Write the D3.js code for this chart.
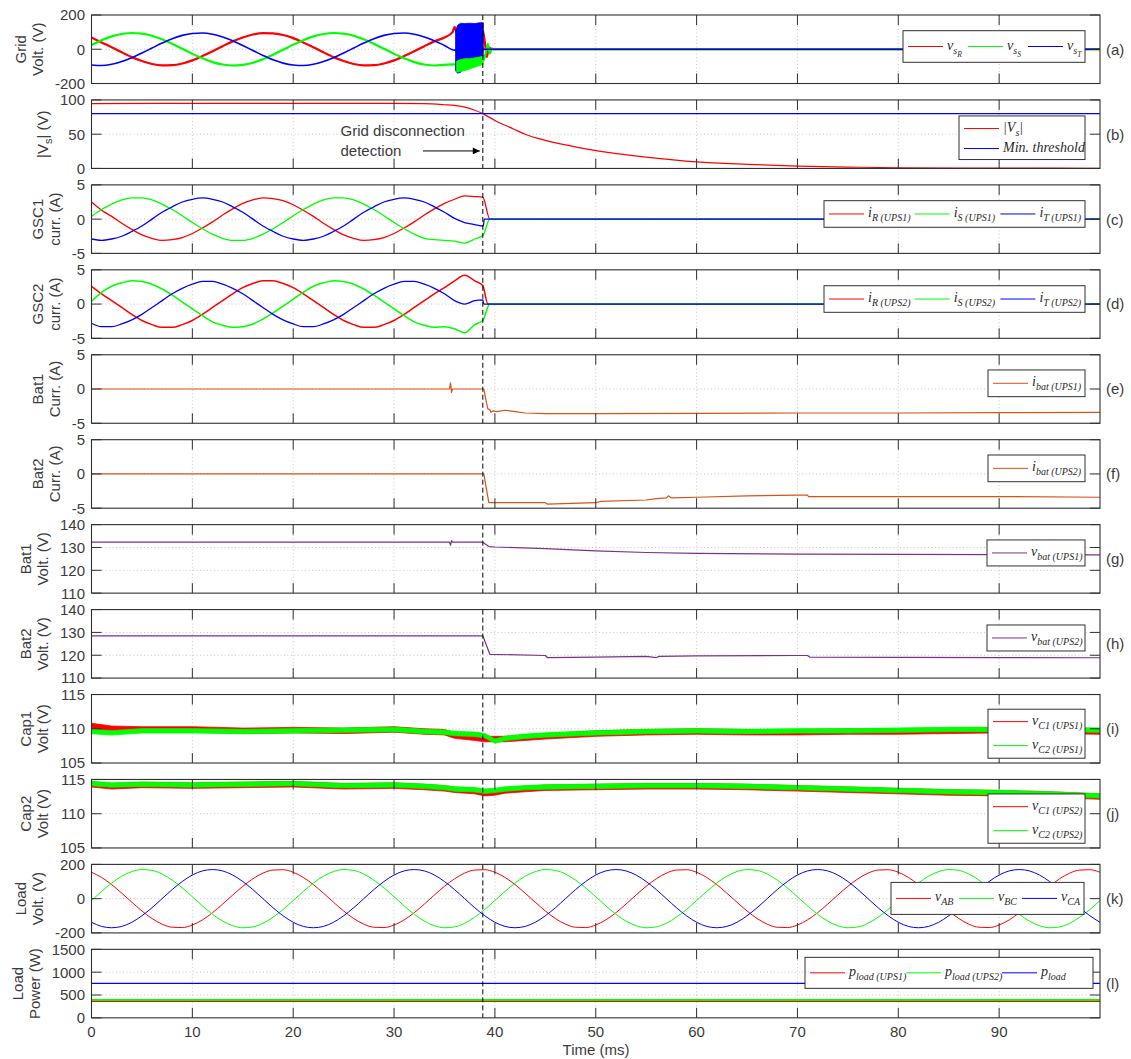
<!DOCTYPE html>
<html>
<head>
<meta charset="utf-8">
<script src="https://cdnjs.cloudflare.com/ajax/libs/d3/7.8.5/d3.min.js"></script>
<style>
body { margin: 0; background: #fff; }
svg { font-family: "Liberation Sans", Arial, sans-serif; }
.tick-label { font-size: 15px; fill: #3c3c3c; }
.ylab { font-size: 15px; fill: #3c3c3c; }
.grid { stroke: #c8c8c8; stroke-dasharray: 1,2.5; }
.frame { fill: none; stroke: #303030; stroke-width: 1.1; }
.tickmark { stroke: #303030; stroke-width: 1; }
.leg text { font-family: "Liberation Serif", "Times New Roman", serif; font-style: italic; fill: #2a2a2a; }
</style>
</head>
<body>
<div id="chart"></div>
<script>
"use strict";

//time axis (ms)
var xTicks = [0, 10, 20, 30, 40, 50, 60, 70, 80, 90];
var tDetect = 38.8;

//(a) grid voltages, one sample per ms before the fault
var tGrid = [0,1,2,3,4,5,6,7,8,9,10,11,12,13,14,15,16,17,18,19,20,21,22,23,24,25,26,27,28,29,30,31,32,33,34,35];
var gridR = [68,40,12,-18,-46,-69,-86,-94,-93,-83,-65,-40,-12,18,46,69,86,94,93,83,65,40,12,-18,-46,-69,-86,-94,-93,-83,-65,-40,-12,18,46,69];
var gridS = [24,53,75,89,95,91,79,58,32,3,-27,-53,-75,-89,-95,-91,-79,-58,-32,-3,27,53,75,89,95,91,79,58,32,3,-27,-53,-75,-89,-95,-91];
var gridT = [-92,-95,-88,-72,-50,-22,7,36,62,81,92,95,88,72,50,22,-7,-36,-62,-81,-92,-95,-88,-72,-50,-22,7,36,62,81,92,95,88,72,50,22];
var gridRTail = [[35.8,100],[36.0,131],[36.2,98],[36.6,112],[37.2,118],[37.8,125],[38.4,135],[38.8,110],[39.0,43],[39.2,-45],[39.4,10],[39.7,0],[100,0]];
var gridSTail = [[36.0,-88],[36.5,-100],[37.5,-90],[38.5,-75],[38.9,-60],[39.1,-20],[39.3,30],[39.5,-25],[39.7,5],[39.9,0],[100,0]];
var gridTTail = [[36.0,-5],[38.9,0],[100,0]];
//switching burst just before the disconnection (envelopes)
var burstT = [36.1, 36.3, 36.6, 37.0, 37.5, 38.0, 38.5, 38.85];
var burstTHi = [110, 140, 152, 150, 152, 150, 155, 155];
var burstTLo = [-125, -140, -135, -100, -80, -65, -58, -55];
var burstSt = [36.2, 36.6, 37.0, 37.5, 38.0, 38.5, 38.85];
var burstSHi = [-70, -60, -55, -55, -50, -45, -40];
var burstSLo = [-135, -130, -125, -115, -105, -95, -88];

//(b) grid voltage magnitude and threshold
var tMag = [0,10,20,30,33,35,36,37,38,38.8,40,41.8,43,45,47.5,50,55,60,65,70,75,80,90,100];
var vsMag = [94.5,95,95,95,94.5,93,92,89.5,85,80,70,58,50,41,33,26,16.5,9.5,6,3.5,2,1,0.5,0.3];
var minThreshold = 80;

//(c),(d) converter currents, one sample per ms
var tCur = [0,1,2,3,4,5,6,7,8,9,10,11,12,13,14,15,16,17,18,19,20,21,22,23,24,25,26,27,28,29,30,31,32,33,34,35,36,37,38];
var iR1 = [2.5,1.3,0.4,-0.6,-1.5,-2.3,-2.8,-3.1,-3.0,-2.7,-2.1,-1.3,-0.4,0.6,1.5,2.3,2.8,3.1,3.0,2.7,2.1,1.3,0.4,-0.6,-1.5,-2.3,-2.8,-3.1,-3.0,-2.7,-2.1,-1.3,-0.4,0.6,1.5,2.3,2.9,3.4,3.3];
var iS1 = [0.4,1.4,2.2,2.8,3.1,3.1,2.8,2.2,1.4,0.5,-0.5,-1.4,-2.2,-2.8,-3.1,-3.1,-2.8,-2.2,-1.4,-0.5,0.5,1.4,2.2,2.8,3.1,3.1,2.8,2.2,1.4,0.5,-0.5,-1.4,-2.2,-2.8,-3.0,-3.1,-3.2,-3.5,-2.9];
var iT1 = [-2.9,-3.1,-2.9,-2.5,-1.8,-1.0,0,1.0,1.8,2.5,2.9,3.1,2.9,2.5,1.8,1.0,0,-1.0,-1.8,-2.5,-2.9,-3.1,-2.9,-2.5,-1.8,-1.0,0,1.0,1.8,2.5,2.9,3.1,2.9,2.5,1.8,1.0,0.1,-0.5,-0.8];
var iR1Tail = [[38.8,3.2],[39.5,0],[100,0]];
var iS1Tail = [[38.8,-2.4],[39.5,0],[100,0]];
var iT1Tail = [[38.85,-1.0],[38.95,0],[100,0]];
var iR2 = [2.6,1.5,0.5,-0.5,-1.5,-2.4,-3.0,-3.4,-3.4,-3.0,-2.4,-1.5,-0.5,0.5,1.5,2.4,3.0,3.4,3.4,3.0,2.4,1.5,0.5,-0.5,-1.5,-2.4,-3.0,-3.4,-3.4,-3.0,-2.4,-1.5,-0.5,0.5,1.5,2.4,3.4,4.2,3.4];
var iS2 = [0.4,1.7,2.6,3.1,3.4,3.3,2.9,2.2,1.3,0.3,-0.7,-1.7,-2.6,-3.1,-3.4,-3.3,-2.9,-2.2,-1.3,-0.3,0.7,1.7,2.6,3.1,3.4,3.3,2.9,2.2,1.3,0.3,-0.7,-1.7,-2.6,-3.1,-3.4,-3.3,-3.6,-4.2,-3.0];
var iT2 = [-2.8,-3.3,-3.3,-2.9,-2.3,-1.5,-0.5,0.5,1.5,2.3,2.9,3.3,3.3,2.9,2.3,1.5,0.5,-0.5,-1.5,-2.3,-2.9,-3.3,-3.3,-2.9,-2.3,-1.5,-0.5,0.5,1.5,2.3,2.9,3.3,3.3,2.9,2.3,1.5,0.5,0.0,0.5];
var iR2Tail = [[38.8,2.7],[39.3,0],[100,0]];
var iS2Tail = [[38.8,-2.4],[39.5,0],[100,0]];
var iT2Tail = [[38.8,0.6],[38.9,0],[100,0]];

//(e),(f) battery currents
var iBat1 = [[0,0],[35.5,0],[35.6,0.9],[35.7,-0.5],[35.8,0],[38.9,0],[39.1,-1.5],[39.3,-2.9],[39.5,-3.0],[39.6,-3.4],[39.8,-3.2],[40.2,-3.3],[41,-3.1],[42,-3.3],[43,-3.5],[45,-3.6],[50,-3.6],[60,-3.55],[70,-3.5],[80,-3.5],[90,-3.45],[100,-3.4]];
var iBat2 = [[0,0],[38.9,0],[39.4,-4.2],[45,-4.2],[45.2,-4.4],[50,-4.2],[50.5,-4.0],[55,-3.8],[56,-3.6],[57,-3.5],[57.2,-3.2],[57.5,-3.5],[60,-3.4],[65,-3.2],[70,-3.1],[71,-3.1],[71.1,-3.3],[80,-3.3],[90,-3.3],[100,-3.4]];

//(g),(h) battery voltages
var vBat1 = [[0,132.3],[35.5,132.3],[35.6,131],[35.7,133],[35.8,132.3],[38.8,132.3],[39.4,130.4],[40,130.2],[45,129.5],[50,128.5],[55,127.8],[60,127.4],[70,127.1],[80,127],[90,126.9],[100,126.8]];
var vBat2 = [[0,128.5],[38.8,128.5],[39.5,120.4],[45,119.9],[45.2,119],[50,119.2],[55,119.5],[56,119.0],[56.3,119.5],[60,119.7],[70,119.9],[71,119.9],[71.2,119.2],[80,119.1],[90,119.0],[100,118.9]];

//(i),(j) dc-link capacitor voltages (mean of the ripple band) and ripple half-width
var tCap = [0,2,5,10,15,20,25,30,33,35,36,38,39,40,41,43,45,50,55,60,65,70,75,80,85,90,95,100];
var vC1u1 = [110.4,110.0,109.9,109.9,109.7,109.8,109.7,109.9,109.6,109.5,109.0,108.7,108.5,108.5,108.5,108.7,108.9,109.3,109.5,109.6,109.5,109.5,109.6,109.6,109.7,109.8,109.7,109.6];
var vC2u1 = [109.6,109.4,109.7,109.7,109.6,109.7,109.8,109.9,109.6,109.5,109.3,109.2,109.0,108.2,108.6,108.9,109.1,109.4,109.6,109.7,109.6,109.7,109.7,109.8,109.9,109.9,109.9,109.8];
var vC1u2 = [114.3,114.0,114.2,114.1,114.2,114.3,114.0,114.1,113.9,113.7,113.5,113.3,113.0,113.1,113.4,113.6,113.8,113.9,114.0,114.0,113.9,113.7,113.5,113.3,113.1,113.0,112.8,112.5];
var vC2u2 = [114.4,114.2,114.3,114.2,114.3,114.4,114.1,114.2,114.0,113.8,113.6,113.5,113.3,113.4,113.6,113.8,113.9,114.0,114.1,114.1,114.0,113.8,113.6,113.4,113.2,113.1,112.9,112.6];
var capRipple = 0.4;

//(k) load line voltages, one sample per ms
var tLoad = [0,1,2,3,4,5,6,7,8,9,10,11,12,13,14,15,16,17,18,19,20,21,22,23,24,25,26,27,28,29,30,31,32,33,34,35,36,37,38,39,40,41,42,43,44,45,46,47,48,49,50,51,52,53,54,55,56,57,58,59,60,61,62,63,64,65,66,67,68,69,70,71,72,73,74,75,76,77,78,79,80,81,82,83,84,85,86,87,88,89,90,91,92,93,94,95,96,97,98,99,100];
var vAB = [154,124,82,32,-21,-72,-116,-149,-167,-169,-154,-124,-82,-32,21,72,116,149,167,169,
  154,124,82,32,-21,-72,-116,-149,-167,-169,-154,-124,-82,-32,21,72,116,149,167,169,
  154,124,82,32,-21,-72,-116,-149,-167,-169,-154,-124,-82,-32,21,72,116,149,167,169,
  154,124,82,32,-21,-72,-116,-149,-167,-169,-154,-124,-82,-32,21,72,116,149,167,169,
  154,124,82,32,-21,-72,-116,-149,-167,-169,-154,-124,-82,-32,21,72,116,149,167,169,154];
var vBC = [-11,42,91,131,158,170,165,144,108,63,11,-42,-91,-131,-158,-170,-165,-144,-108,-63,
  -11,42,91,131,158,170,165,144,108,63,11,-42,-91,-131,-158,-170,-165,-144,-108,-63,
  -11,42,91,131,158,170,165,144,108,63,11,-42,-91,-131,-158,-170,-165,-144,-108,-63,
  -11,42,91,131,158,170,165,144,108,63,11,-42,-91,-131,-158,-170,-165,-144,-108,-63,
  -11,42,91,131,158,170,165,144,108,63,11,-42,-91,-131,-158,-170,-165,-144,-108,-63,-11];
var vCA = [-138,-162,-170,-162,-138,-100,-53,0,53,100,138,162,170,162,138,100,53,0,-53,-100,
  -138,-162,-170,-162,-138,-100,-53,0,53,100,138,162,170,162,138,100,53,0,-53,-100,
  -138,-162,-170,-162,-138,-100,-53,0,53,100,138,162,170,162,138,100,53,0,-53,-100,
  -138,-162,-170,-162,-138,-100,-53,0,53,100,138,162,170,162,138,100,53,0,-53,-100,
  -138,-162,-170,-162,-138,-100,-53,0,53,100,138,162,170,162,138,100,53,0,-53,-100,-138];

//(l) load powers (W)
var pLoad1 = [[0,365],[100,365]];
var pLoad2 = [[0,390],[100,390]];
var pLoad = [[0,755],[100,755]];

var red = "#ff0000", green = "#00ff00", blue = "#0000ff",
  orange = "#d95319", purple = "#7e2f8e";

function zip(ts, vs) {
  return ts.map(function(t, i) {
    return [t, vs[i]];
  });
}

function band(ts, hi, lo) {
  return ts.map(function(t, i) {
    return [t, hi[i], lo[i]];
  });
}

function ripple(ts, vs, hw) {
  return ts.map(function(t, i) {
    return [t, vs[i] + hw, vs[i] - hw];
  });
}

//legend labels: [text, level] with level 0 base, 1 sub, 2 sub-sub
var panels = [
  {
    letter: "(a)", ylab: [[["Grid", 0]], [["Volt. (V)", 0]]],
    domain: [-200, 200], ticks: [-200, 0, 200],
    series: [
      { data: zip(tGrid, gridR).concat(gridRTail), color: red, width: 2.2, smooth: true },
      { data: zip(tGrid, gridS).concat(gridSTail), color: green, width: 2.2, smooth: true },
      { data: zip(tGrid, gridT).concat(gridTTail), color: blue, width: 1.6, smooth: true }
    ],
    bands: [
      { data: band(burstT, burstTHi, burstTLo), color: blue },
      { data: band(burstSt, burstSHi, burstSLo), color: green }
    ],
    legend: { x0: 903, x1: 1085, dy: 15.7, h: 31.6, step: 60, items: [
      { color: red, label: [["v", 0], ["s", 1], ["R", 2]] },
      { color: green, label: [["v", 0], ["s", 1], ["S", 2]] },
      { color: blue, label: [["v", 0], ["s", 1], ["T", 2]] }
    ] }
  },
  {
    letter: "(b)", ylab: [[["|V", 0], ["s", 1], ["| (V)", 0]]],
    domain: [0, 100], ticks: [0, 50, 100],
    series: [
      { data: zip(tMag, vsMag), color: red, width: 1.2, smooth: true },
      { data: [[0, minThreshold], [100, minThreshold]], color: blue, width: 1.2 }
    ],
    legend: { x0: 959, x1: 1085, dy: 16, h: 43.6, rowY: [12.6, 32.6], items: [
      { color: red, label: [["|V", 0], ["s", 1], ["|", 0]] },
      { color: blue, label: [["Min. threshold", 0]] }
    ] }
  },
  {
    letter: "(c)", ylab: [[["GSC1", 0]], [["curr. (A)", 0]]],
    domain: [-5, 5], ticks: [-5, 0, 5],
    series: [
      { data: zip(tCur, iR1).concat(iR1Tail), color: red, width: 1.3, smooth: true },
      { data: zip(tCur, iS1).concat(iS1Tail), color: green, width: 1.3, smooth: true },
      { data: zip(tCur, iT1).concat(iT1Tail), color: blue, width: 1.3, smooth: true }
    ],
    legend: { x0: 824, x1: 1085, dy: 15.8, h: 26.6, step: 85.7, items: [
      { color: red, label: [["i", 0], ["R (UPS1)", 1]] },
      { color: green, label: [["i", 0], ["S (UPS1)", 1]] },
      { color: blue, label: [["i", 0], ["T (UPS1)", 1]] }
    ] }
  },
  {
    letter: "(d)", ylab: [[["GSC2", 0]], [["curr. (A)", 0]]],
    domain: [-5, 5], ticks: [-5, 0, 5],
    series: [
      { data: zip(tCur, iR2).concat(iR2Tail), color: red, width: 1.5, smooth: true },
      { data: zip(tCur, iS2).concat(iS2Tail), color: green, width: 1.5, smooth: true },
      { data: zip(tCur, iT2).concat(iT2Tail), color: blue, width: 1.3, smooth: true }
    ],
    legend: { x0: 824, x1: 1085, dy: 15.9, h: 26.6, step: 85.7, items: [
      { color: red, label: [["i", 0], ["R (UPS2)", 1]] },
      { color: green, label: [["i", 0], ["S (UPS2)", 1]] },
      { color: blue, label: [["i", 0], ["T (UPS2)", 1]] }
    ] }
  },
  {
    letter: "(e)", ylab: [[["Bat1", 0]], [["Curr. (A)", 0]]],
    domain: [-5, 5], ticks: [-5, 0, 5],
    series: [{ data: iBat1, color: orange, width: 1.2 }],
    legend: { x0: 988, x1: 1085, dy: 15.2, h: 26.7, step: 0, items: [
      { color: orange, label: [["i", 0], ["bat (UPS1)", 1]] }
    ] }
  },
  {
    letter: "(f)", ylab: [[["Bat2", 0]], [["Curr. (A)", 0]]],
    domain: [-5, 5], ticks: [-5, 0, 5],
    series: [{ data: iBat2, color: orange, width: 1.2 }],
    legend: { x0: 988, x1: 1085, dy: 15.3, h: 26.7, step: 0, items: [
      { color: orange, label: [["i", 0], ["bat (UPS2)", 1]] }
    ] }
  },
  {
    letter: "(g)", ylab: [[["Bat1", 0]], [["Volt. (V)", 0]]],
    domain: [110, 140], ticks: [110, 120, 130, 140],
    series: [{ data: vBat1, color: purple, width: 1.2 }],
    legend: { x0: 987, x1: 1085, dy: 15.3, h: 26, step: 0, items: [
      { color: purple, label: [["v", 0], ["bat (UPS1)", 1]] }
    ] }
  },
  {
    letter: "(h)", ylab: [[["Bat2", 0]], [["Volt. (V)", 0]]],
    domain: [110, 140], ticks: [110, 120, 130, 140],
    series: [{ data: vBat2, color: purple, width: 1.2 }],
    legend: { x0: 987, x1: 1085, dy: 15.4, h: 26, step: 0, items: [
      { color: purple, label: [["v", 0], ["bat (UPS2)", 1]] }
    ] }
  },
  {
    letter: "(i)", ylab: [[["Cap1", 0]], [["Volt (V)", 0]]],
    domain: [105, 115], ticks: [105, 110, 115],
    bands: [
      { data: ripple(tCap, vC1u1, capRipple), color: red },
      { data: ripple(tCap, vC2u1, capRipple * 0.8), color: green }
    ],
    legend: { x0: 988, x1: 1085, dy: 14.7, h: 49, rowY: [12.4, 36.4], items: [
      { color: red, label: [["v", 0], ["C1 (UPS1)", 1]] },
      { color: green, label: [["v", 0], ["C2 (UPS1)", 1]] }
    ] }
  },
  {
    letter: "(j)", ylab: [[["Cap2", 0]], [["Volt (V)", 0]]],
    domain: [105, 115], ticks: [105, 110, 115],
    bands: [
      { data: ripple(tCap, vC1u2, capRipple), color: red },
      { data: ripple(tCap, vC2u2, capRipple * 0.8), color: green }
    ],
    legend: { x0: 988, x1: 1085, dy: 14.5, h: 49.3, rowY: [12.7, 36.7], items: [
      { color: red, label: [["v", 0], ["C1 (UPS2)", 1]] },
      { color: green, label: [["v", 0], ["C2 (UPS2)", 1]] }
    ] }
  },
  {
    letter: "(k)", ylab: [[["Load", 0]], [["Volt. (V)", 0]]],
    domain: [-200, 200], ticks: [-200, 0, 200],
    series: [
      { data: zip(tLoad, vAB), color: red, width: 1, smooth: true },
      { data: zip(tLoad, vBC), color: green, width: 1, smooth: true },
      { data: zip(tLoad, vCA), color: blue, width: 1, smooth: true }
    ],
    legend: { x0: 891, x1: 1084, dy: 18, h: 32, step: 63, items: [
      { color: red, label: [["v", 0], ["AB", 1]] },
      { color: green, label: [["v", 0], ["BC", 1]] },
      { color: blue, label: [["v", 0], ["CA", 1]] }
    ] }
  },
  {
    letter: "(l)", ylab: [[["Load", 0]], [["Power (W)", 0]]],
    domain: [0, 1500], ticks: [0, 500, 1000, 1500],
    series: [
      { data: pLoad1, color: red, width: 1.5 },
      { data: pLoad2, color: green, width: 2 },
      { data: pLoad, color: blue, width: 1.2 }
    ],
    legend: { x0: 805, x1: 1093, dy: 8, h: 31, step: 96, items: [
      { color: red, label: [["p", 0], ["load (UPS1)", 1]] },
      { color: green, label: [["p", 0], ["load (UPS2)", 1]] },
      { color: blue, label: [["p", 0], ["load", 1]] }
    ] }
  }
];

var w = 1131,
  h = 1059,
  top0 = 15,
  pitch = 84.94,
  ph = 68.5,
  tickLen = 10;

var svg = d3
  .select("#chart")
  .append("svg")
  .attr("width", w)
  .attr("height", h);

var x = d3
  .scaleLinear()
  .domain([0, 100])
  .range([91.5, 1100]);

var defs = svg.append("defs");
defs
  .append("marker")
  .attr("id", "arrow")
  .attr("viewBox", "0 0 10 10")
  .attr("refX", 10)
  .attr("refY", 5)
  .attr("markerWidth", 9)
  .attr("markerHeight", 7)
  .attr("markerUnits", "userSpaceOnUse")
  .attr("orient", "auto")
  .append("path")
  .attr("d", "M0,0L10,5L0,10z")
  .attr("fill", "#000");

//writes sub/subscript segments into a text element
var levelSize = [14, 10, 7.5],
  levelShift = [0, 4, 7];

function richText(txt, segs, sizes, shifts) {
  var level = 0;
  segs.forEach(function(seg) {
    txt
      .append("tspan")
      .attr("dy", shifts[seg[1]] - shifts[level])
      .attr("font-size", sizes[seg[1]])
      .text(seg[0]);
    level = seg[1];
  });
}

function drawLegend(g, lg, top) {
  var box = g.append("g").attr("class", "leg");
  var by = top + lg.dy;
  box
    .append("rect")
    .attr("x", lg.x0)
    .attr("y", by)
    .attr("width", lg.x1 - lg.x0)
    .attr("height", lg.h)
    .attr("fill", "#fff")
    .attr("stroke", "#303030")
    .attr("stroke-width", 1);

  lg.items.forEach(function(it, i) {
    var lx = lg.rowY ? lg.x0 + 5 : lg.x0 + 5 + i * lg.step;
    var ly = lg.rowY ? by + lg.rowY[i] : by + lg.h / 2;
    box
      .append("line")
      .attr("x1", lx)
      .attr("x2", lx + 35)
      .attr("y1", ly)
      .attr("y2", ly)
      .attr("stroke", it.color)
      .attr("stroke-width", 1);
    var txt = box
      .append("text")
      .attr("x", lx + 39)
      .attr("y", ly + 3);
    richText(txt, it.label, levelSize, levelShift);
  });
}

panels.forEach(function(p, k) {
  var top = top0 + k * pitch,
    bottom = top + ph;

  var y = d3
    .scaleLinear()
    .domain(p.domain)
    .range([bottom, top]);

  var g = svg.append("g").attr("class", "panel");

  defs
    .append("clipPath")
    .attr("id", "clip" + k)
    .append("rect")
    .attr("x", x.range()[0])
    .attr("y", top)
    .attr("width", x.range()[1] - x.range()[0])
    .attr("height", ph);

  //dotted grid
  g.selectAll(".gx")
    .data(xTicks.slice(1))
    .enter()
    .append("line")
    .attr("class", "grid")
    .attr("x1", function(d) { return x(d); })
    .attr("x2", function(d) { return x(d); })
    .attr("y1", top)
    .attr("y2", bottom);

  g.selectAll(".gy")
    .data(p.ticks.slice(1, -1))
    .enter()
    .append("line")
    .attr("class", "grid")
    .attr("x1", x.range()[0])
    .attr("x2", x.range()[1])
    .attr("y1", function(d) { return y(d); })
    .attr("y2", function(d) { return y(d); });

  var plot = g.append("g").attr("clip-path", "url(#clip" + k + ")");

  var area = d3
    .area()
    .x(function(d) { return x(d[0]); })
    .y0(function(d) { return y(d[2]); })
    .y1(function(d) { return y(d[1]); });

  (p.series || []).forEach(function(s) {
    var line = d3
      .line()
      .x(function(d) { return x(d[0]); })
      .y(function(d) { return y(d[1]); })
      .curve(s.smooth ? d3.curveMonotoneX : d3.curveLinear);
    plot
      .append("path")
      .datum(s.data)
      .attr("d", line)
      .attr("fill", "none")
      .attr("stroke", s.color)
      .attr("stroke-width", s.width)
      .attr("stroke-linejoin", "round");
  });

  (p.bands || []).forEach(function(b) {
    plot
      .append("path")
      .datum(b.data)
      .attr("d", area)
      .attr("fill", b.color)
      .attr("stroke", b.color)
      .attr("stroke-width", 0.8);
  });

  //grid disconnection instant
  g.append("line")
    .attr("x1", x(tDetect))
    .attr("x2", x(tDetect))
    .attr("y1", top)
    .attr("y2", bottom)
    .attr("stroke", "#000")
    .attr("stroke-width", 1)
    .attr("stroke-dasharray", "5,3");

  g.append("rect")
    .attr("class", "frame")
    .attr("x", x.range()[0])
    .attr("y", top)
    .attr("width", x.range()[1] - x.range()[0])
    .attr("height", ph);

  //inward ticks on all four sides
  xTicks.slice(1).forEach(function(t) {
    g.append("line").attr("class", "tickmark")
      .attr("x1", x(t)).attr("x2", x(t)).attr("y1", bottom).attr("y2", bottom - tickLen);
    g.append("line").attr("class", "tickmark")
      .attr("x1", x(t)).attr("x2", x(t)).attr("y1", top).attr("y2", top + tickLen);
  });
  p.ticks.forEach(function(t) {
    g.append("line").attr("class", "tickmark")
      .attr("x1", x.range()[0]).attr("x2", x.range()[0] + tickLen).attr("y1", y(t)).attr("y2", y(t));
    g.append("line").attr("class", "tickmark")
      .attr("x1", x.range()[1]).attr("x2", x.range()[1] - tickLen).attr("y1", y(t)).attr("y2", y(t));
  });

  var yl = g.append("g");
  yl.selectAll("text")
    .data(p.ticks)
    .enter()
    .append("text")
    .attr("class", "tick-label")
    .attr("x", 85)
    .attr("y", function(d) { return y(d); })
    .attr("dy", "0.36em")
    .attr("text-anchor", "end")
    .text(function(d) { return d; });

  //y label sits left of the widest tick label
  var left = yl.node().getBBox().x;
  var cy = (top + bottom) / 2;
  p.ylab.forEach(function(segs, j) {
    var lx = left - 12 - (p.ylab.length - 1 - j) * 17;
    var txt = g
      .append("text")
      .attr("class", "ylab")
      .attr("text-anchor", "middle")
      .attr("transform", "translate(" + lx + "," + cy + ") rotate(-90)");
    richText(txt, segs, [15, 11, 9], [0, 4, 7]);
  });

  g.append("text")
    .attr("class", "ylab")
    .attr("x", 1106)
    .attr("y", cy)
    .attr("dy", "0.36em")
    .attr("font-size", 16)
    .text(p.letter);

  if (p.legend) drawLegend(g, p.legend, top);

  //annotation in panel (b)
  if (k === 1) {
    g.append("text")
      .attr("class", "ylab")
      .attr("font-size", 15.5)
      .attr("x", 340.5)
      .attr("y", top + 36)
      .text("Grid disconnection");
    g.append("text")
      .attr("class", "ylab")
      .attr("font-size", 15.5)
      .attr("x", 340.5)
      .attr("y", top + 56)
      .text("detection");
    g.append("line")
      .attr("x1", 423)
      .attr("x2", x(tDetect) - 3)
      .attr("y1", top + 51)
      .attr("y2", top + 51)
      .attr("stroke", "#000")
      .attr("stroke-width", 1)
      .attr("marker-end", "url(#arrow)");
  }

  //time labels under the last panel
  if (k === panels.length - 1) {
    g.selectAll(".xl")
      .data(xTicks)
      .enter()
      .append("text")
      .attr("class", "tick-label")
      .attr("x", function(d) { return x(d); })
      .attr("y", bottom + 14)
      .attr("dy", "0.36em")
      .attr("text-anchor", "middle")
      .text(function(d) { return d; });
    g.append("text")
      .attr("class", "ylab")
      .attr("font-size", 16)
      .attr("x", 596)
      .attr("y", bottom + 32)
      .attr("dy", "0.36em")
      .attr("text-anchor", "middle")
      .text("Time (ms)");
  }
});
</script>
</body>
</html>
